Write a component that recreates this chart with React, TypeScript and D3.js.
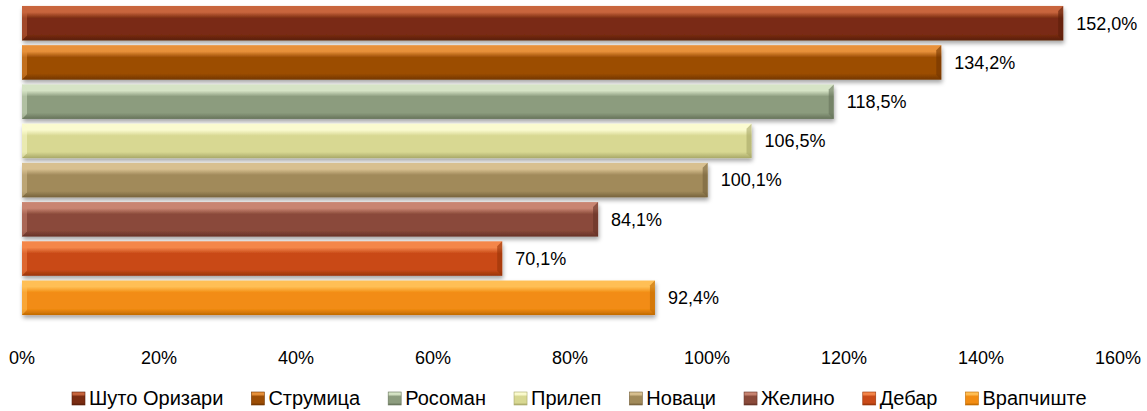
import React, { useEffect, useRef } from 'react';
import * as d3 from 'd3';

const categories = ['Шуто Оризари', 'Струмица', 'Росоман', 'Прилеп', 'Новаци', 'Желино', 'Дебар', 'Врапчиште'];
const values = [152.0, 134.2, 118.5, 106.5, 100.1, 84.1, 70.1, 92.4];
const ticks = [0, 20, 40, 60, 80, 100, 120, 140, 160];
// top highlight, main, bottom shade
const palette = [
  ['#c8653d', '#7a2c12', '#5a1e0a'],
  ['#e8913a', '#9c4d05', '#733600'],
  ['#d6e4c6', '#8c9c7e', '#66735a'],
  ['#fbfbd0', '#d8d892', '#a8a868'],
  ['#d8c090', '#a18a5a', '#76623c'],
  ['#c98572', '#8a4a3a', '#663226'],
  ['#f4864a', '#c94a18', '#983408'],
  ['#ffbf55', '#f28c12', '#c06a00'],
];

const W = 1147;
const H = 411;
const FONT = "'Liberation Sans', Arial, sans-serif";
const FS = 18;
const LEGEND_FS = 20;

const App: React.FC = () => {
  const svgRef = useRef<SVGSVGElement>(null);

  useEffect(() => {
    if (!svgRef.current) return;
    const svg = d3.select(svgRef.current);
    svg.selectAll('*').remove();

    const x = d3.scaleLinear().domain([0, 160]).range([22, 1118]);
    const y = d3.scaleBand<string>().domain(categories).range([4, 317]).paddingInner(0.12).paddingOuter(0.05);

    const defs = svg.append('defs');
    palette.forEach((c, i) => {
      const g = defs.append('linearGradient').attr('id', `grad${i}`).attr('x1', 0).attr('y1', 0).attr('x2', 0).attr('y2', 1);
      g.append('stop').attr('offset', '0%').attr('stop-color', c[0]);
      g.append('stop').attr('offset', '18%').attr('stop-color', c[0]);
      g.append('stop').attr('offset', '35%').attr('stop-color', c[1]);
      g.append('stop').attr('offset', '82%').attr('stop-color', c[1]);
      g.append('stop').attr('offset', '100%').attr('stop-color', c[2]);
    });
    const f = defs.append('filter').attr('id', 'shadow').attr('x', '-5%').attr('y', '-20%').attr('width', '110%').attr('height', '160%');
    f.append('feDropShadow').attr('dx', 1).attr('dy', 3).attr('stdDeviation', 2).attr('flood-color', '#000').attr('flood-opacity', 0.35);

    const bars = svg.append('g').selectAll('g.bar').data(categories).enter().append('g').attr('class', 'bar');
    bars
      .append('rect')
      .attr('x', x(0))
      .attr('y', (d) => y(d) || 0)
      .attr('width', (d, i) => x(values[i]) - x(0))
      .attr('height', y.bandwidth())
      .attr('fill', (d, i) => `url(#grad${i})`)
      .attr('filter', 'url(#shadow)');
    // left/right bevel facets
    bars
      .append('path')
      .attr('d', (d) => {
        const y0 = y(d) || 0;
        const h = y.bandwidth();
        const x0 = x(0);
        return `M${x0},${y0}L${x0 + 5},${y0 + 5}L${x0 + 5},${y0 + h - 5}L${x0},${y0 + h}Z`;
      })
      .attr('fill', (d, i) => palette[i][0])
      .attr('opacity', 0.5);
    bars
      .append('path')
      .attr('d', (d, i) => {
        const y0 = y(d) || 0;
        const h = y.bandwidth();
        const x1 = x(values[i]);
        return `M${x1},${y0}L${x1 - 5},${y0 + 5}L${x1 - 5},${y0 + h - 5}L${x1},${y0 + h}Z`;
      })
      .attr('fill', (d, i) => palette[i][2])
      .attr('opacity', 0.6);

    bars
      .append('text')
      .attr('x', (d, i) => x(values[i]) + 13)
      .attr('y', (d) => (y(d) || 0) + y.bandwidth() / 2)
      .attr('dy', '0.35em')
      .attr('font-family', FONT)
      .attr('font-size', FS)
      .attr('fill', '#000')
      .text((d, i) => `${values[i].toFixed(1).replace('.', ',')}%`);

    svg
      .append('g')
      .selectAll('text')
      .data(ticks)
      .enter()
      .append('text')
      .attr('x', (d) => x(d))
      .attr('y', 358)
      .attr('dy', '0.35em')
      .attr('text-anchor', 'middle')
      .attr('font-family', FONT)
      .attr('font-size', FS)
      .text((d) => `${d}%`);

    const legend = svg.append('g');
    let lx = 72;
    categories.forEach((c, i) => {
      const item = legend.append('g');
      item
        .append('rect')
        .attr('x', lx)
        .attr('y', 392)
        .attr('width', 13)
        .attr('height', 13)
        .attr('fill', `url(#grad${i})`)
        .attr('stroke', palette[i][2])
        .attr('stroke-width', 0.6);
      const t = item
        .append('text')
        .attr('x', lx + 17)
        .attr('y', 398)
        .attr('dy', '0.35em')
        .attr('font-family', FONT)
        .attr('font-size', LEGEND_FS)
        .text(c);
      const w = (t.node() as SVGTextElement).getComputedTextLength();
      lx += 17 + w + 28;
    });
  }, []);

  return <svg ref={svgRef} width={W} height={H} style={{ display: 'block', position: 'absolute', left: 0, top: 0 }} />;
};

export default App;
